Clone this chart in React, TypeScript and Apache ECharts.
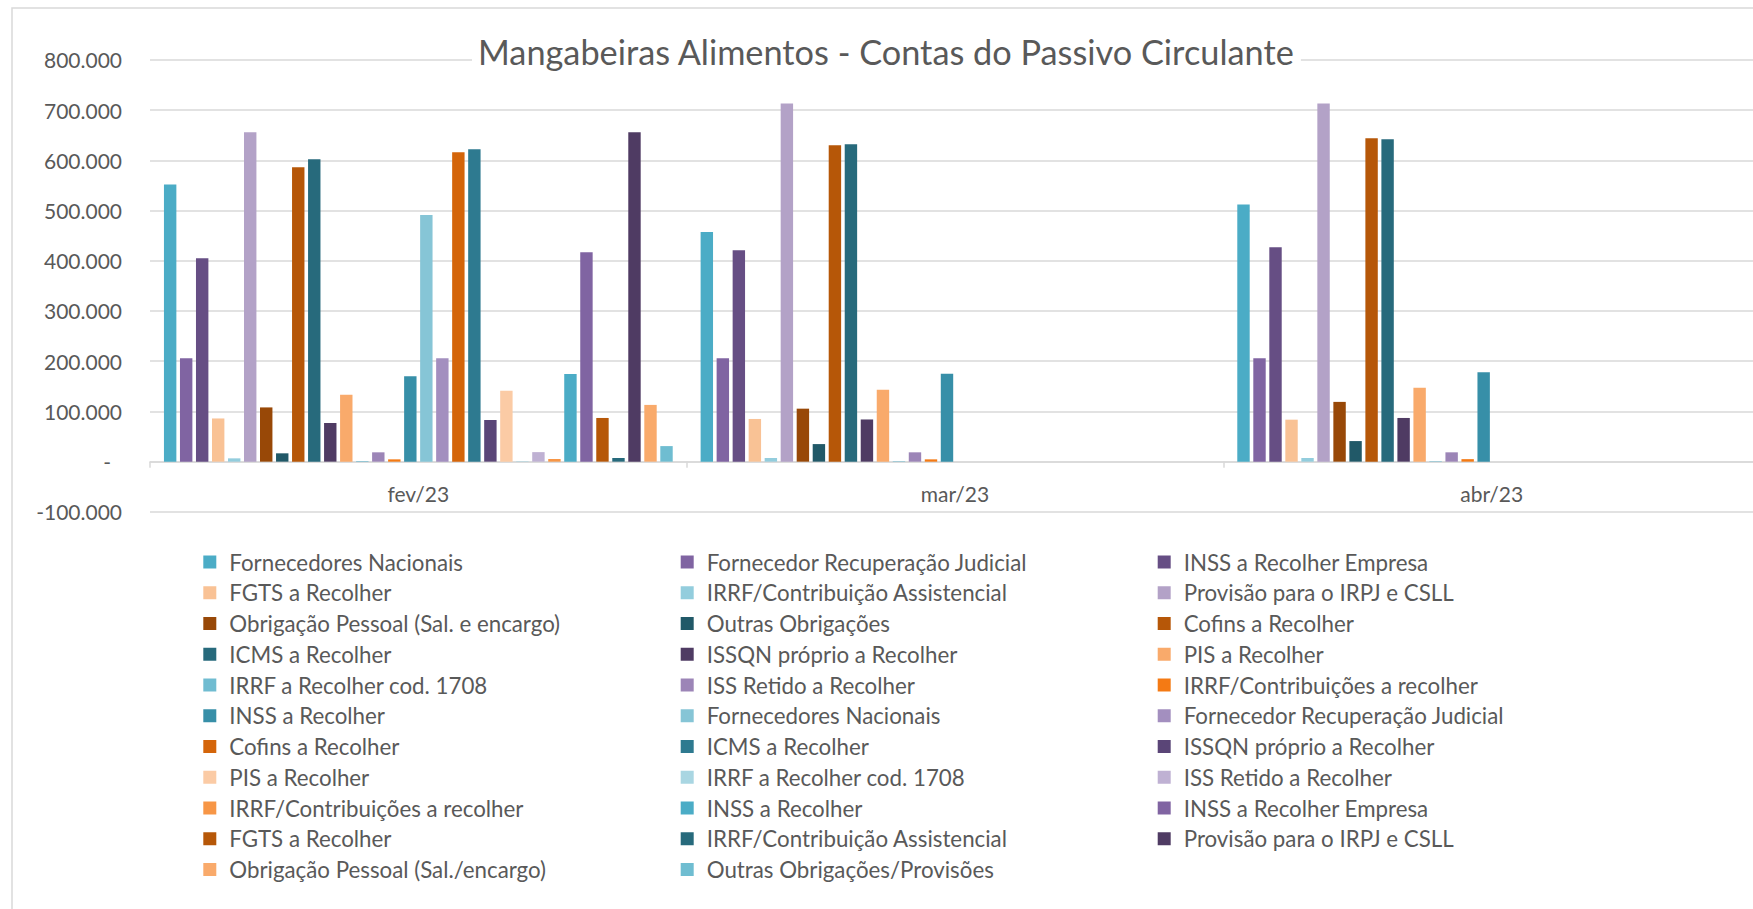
import React, { useEffect, useRef } from 'react';
import * as echarts from 'echarts';

const categories = ['fev/23', 'mar/23', 'abr/23'];

const seriesLabels = [
  'Fornecedores Nacionais',
  'Fornecedor Recuperação Judicial',
  'INSS a Recolher Empresa',
  'FGTS a Recolher',
  'IRRF/Contribuição Assistencial',
  'Provisão para o IRPJ e CSLL',
  'Obrigação Pessoal (Sal. e encargo)',
  'Outras Obrigações',
  'Cofins a Recolher',
  'ICMS a Recolher',
  'ISSQN próprio a Recolher',
  'PIS a Recolher',
  'IRRF a Recolher cod. 1708',
  'ISS Retido a Recolher',
  'IRRF/Contribuições a recolher',
  'INSS a Recolher',
  'Fornecedores Nacionais',
  'Fornecedor Recuperação Judicial',
  'Cofins a Recolher',
  'ICMS a Recolher',
  'ISSQN próprio a Recolher',
  'PIS a Recolher',
  'IRRF a Recolher cod. 1708',
  'ISS Retido a Recolher',
  'IRRF/Contribuições a recolher',
  'INSS a Recolher',
  'INSS a Recolher Empresa',
  'FGTS a Recolher',
  'IRRF/Contribuição Assistencial',
  'Provisão para o IRPJ e CSLL',
  'Obrigação Pessoal (Sal./encargo)',
  'Outras Obrigações/Provisões',
];

const seriesColors = [
  '#4BACC6', '#8064A2', '#664E84', '#F9C295', '#93CDDD', '#B3A2C7', '#984807', '#215968',
  '#B65708', '#276A7C', '#4F3B63', '#F9AA6B', '#70BCD1', '#9C85B7', '#F47A14', '#378FA8',
  '#86C5D6', '#A38FBF', '#D4650A', '#2E7A90', '#5A4577', '#FBCBA5', '#A9D6E2', '#BFB1D3',
  '#F79646', '#4BACC6', '#8064A2', '#B65708', '#276A7C', '#4F3B63', '#F9AA6B', '#6FBDD1',
];

const fev23 = [
  552000, 206000, 405000, 86000, 6600, 656000, 108000, 16600,
  586000, 602000, 77000, 133000, 1300, 18600, 4600, 170000,
  491000, 206000, 616000, 622000, 83000, 141000, 1000, 19000,
  5300, 174500, 417000, 87000, 7300, 656000, 113000, 31000,
];
const mar23 = [
  457000, 206000, 421000, 85000, 7300, 713000, 105500, 35000,
  630000, 632000, 84000, 143000, 1000, 18600, 4600, 175000,
  null, null, null, null, null, null, null, null,
  null, null, null, null, null, null, null, null,
];
const abr23 = [
  512000, 206000, 427000, 83600, 7300, 713000, 119000, 41000,
  644000, 642000, 87000, 147000, 1000, 18600, 5000, 178000,
  null, null, null, null, null, null, null, null,
  null, null, null, null, null, null, null, null,
];

const yTicks = { min: -100000, max: 800000, interval: 100000 };

const FONT = 'Lato';
const TXT = '#595959';
const GRID_C = '#d9d9d9';

function fmt(v: number): string {
  if (v === 0) return '{d|-}';
  const s = Math.abs(v).toString().replace(/\B(?=(\d{3})+(?!\d))/g, '.');
  return (v < 0 ? '-' : '') + s;
}

export default function App() {
  const ref = useRef<HTMLDivElement>(null);
  useEffect(() => {
    document.body.style.margin = '0';
    document.body.style.overflow = 'hidden';
    document.documentElement.style.overflow = 'hidden';
    if (!ref.current) return;
    const chart = echarts.init(ref.current, undefined, { renderer: 'svg' });
    const ids = seriesLabels.map((_, i) => 's' + i);
    const labelOf: Record<string, string> = {};
    ids.forEach((id, i) => (labelOf[id] = seriesLabels[i]));
    const months = [fev23, mar23, abr23];
    const series = ids.map((id, i) => ({
      name: id,
      type: 'bar',
      data: months.map((m) => m[i]),
      itemStyle: { color: seriesColors[i] },
      barGap: '29%',
      barCategoryGap: '5.2%',
    }));
    const colLefts = [203.3, 680.7, 1157.7];
    const legends = [0, 1, 2].map((c) => ({
      orient: 'vertical',
      left: colLefts[c],
      top: 551,
      padding: 0,
      itemWidth: 13,
      itemHeight: 13,
      itemGap: 8.75,
      icon: 'rect',
      selectedMode: false,
      data: ids.filter((_, i) => i % 3 === c),
      formatter: (n: string) => labelOf[n],
      textStyle: { fontFamily: FONT, fontSize: 22.3, color: TXT, lineHeight: 22, padding: [0, 0, 0, 8] },
    }));
    chart.setOption({
      animation: false,
      backgroundColor: '#ffffff',
      title: {
        text: 'Mangabeiras Alimentos - Contas do Passivo Circulante',
        left: 472,
        top: 31,
        padding: [0, 6],
        backgroundColor: '#ffffff',
        textStyle: { fontFamily: FONT, fontSize: 34.3, fontWeight: 'normal', color: TXT, lineHeight: 40 },
      },
      graphic: [
        {
          type: 'rect',
          z: -10,
          shape: { x: 12, y: 8, width: 1900, height: 1000 },
          style: { fill: 'none', stroke: GRID_C, lineWidth: 1.5 },
          silent: true,
        },
      ],
      legend: legends,
      grid: { left: 150, right: 0, top: 59.8, height: 452.1, containLabel: false, outerBoundsMode: 'none' },
      xAxis: {
        type: 'category',
        data: categories,
        axisLine: { lineStyle: { color: GRID_C, width: 1.5 } },
        axisTick: { show: true, length: 6, lineStyle: { color: GRID_C, width: 1.5 } },
        axisLabel: { fontFamily: FONT, fontSize: 21, color: TXT, margin: -29 },
      },
      yAxis: {
        type: 'value',
        min: yTicks.min,
        max: yTicks.max,
        interval: yTicks.interval,
        axisLine: { show: false },
        axisTick: { show: false },
        splitLine: { lineStyle: { color: GRID_C, width: 1.5 } },
        axisLabel: {
          fontFamily: FONT,
          fontSize: 21,
          color: TXT,
          margin: 28,
          formatter: fmt,
          rich: { d: { fontFamily: FONT, fontSize: 21, color: TXT, padding: [0, 11, 0, 0] } },
        },
      },
      series,
    });
    return () => chart.dispose();
  }, []);
  return <div ref={ref} style={{ width: 1760, height: 909 }} />;
}
